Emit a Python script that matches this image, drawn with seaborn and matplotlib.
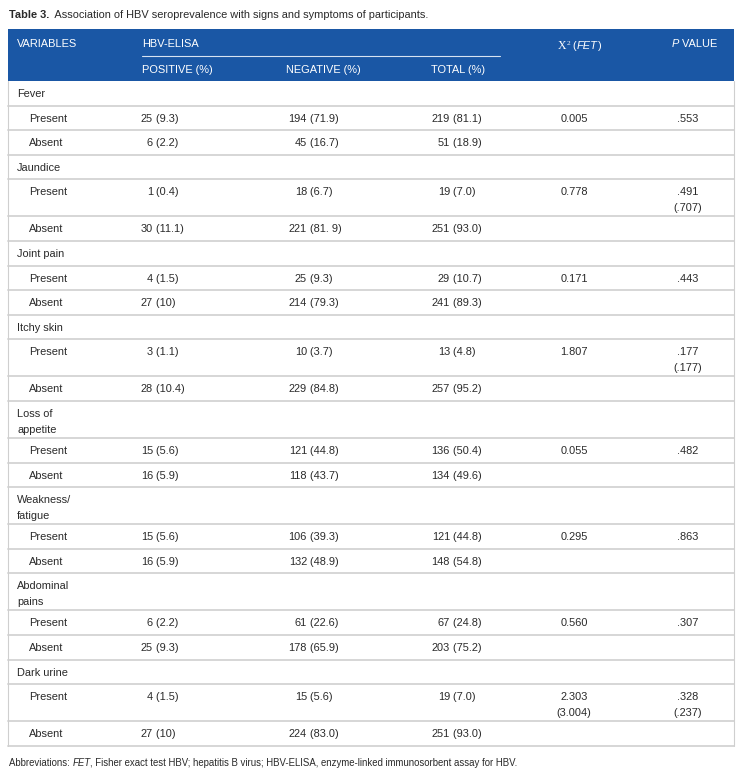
import matplotlib
matplotlib.use('Agg')
import matplotlib.pyplot as plt
import seaborn as sns

# table content
symptoms = ['Fever', 'Jaundice', 'Joint pain', 'Itchy skin', 'Loss of\nappetite',
            'Weakness/\nfatigue', 'Abdominal\npains', 'Dark urine']
levels = ['Present', 'Absent']

positive = [['25 (9.3)', '6 (2.2)'], ['1 (0.4)', '30 (11.1)'], ['4 (1.5)', '27 (10)'],
            ['3 (1.1)', '28 (10.4)'], ['15 (5.6)', '16 (5.9)'], ['15 (5.6)', '16 (5.9)'],
            ['6 (2.2)', '25 (9.3)'], ['4 (1.5)', '27 (10)']]
negative = [['194 (71.9)', '45 (16.7)'], ['18 (6.7)', '221 (81. 9)'], ['25 (9.3)', '214 (79.3)'],
            ['10 (3.7)', '229 (84.8)'], ['121 (44.8)', '118 (43.7)'], ['106 (39.3)', '132 (48.9)'],
            ['61 (22.6)', '178 (65.9)'], ['15 (5.6)', '224 (83.0)']]
total = [['219 (81.1)', '51 (18.9)'], ['19 (7.0)', '251 (93.0)'], ['29 (10.7)', '241 (89.3)'],
         ['13 (4.8)', '257 (95.2)'], ['136 (50.4)', '134 (49.6)'], ['121 (44.8)', '148 (54.8)'],
         ['67 (24.8)', '203 (75.2)'], ['19 (7.0)', '251 (93.0)']]
chi_square = ['0.005', '0.778', '0.171', '1.807', '0.055', '0.295', '0.560', '2.303\n(3.004)']
p_values = ['.553', '.491\n(.707)', '.443', '.177\n(.177)', '.482', '.863', '.307', '.328\n(.237)']

title_bold = 'Table 3.'
title_rest = 'Association of HBV seroprevalence with signs and symptoms of participants.'

sns.set_theme(style='white')
plt.rcParams['font.family'] = ['Liberation Sans', 'DejaVu Sans']

BLUE = '#1a57a5'
GRID = '#d6d6d6'
INK = '#2a2a2a'
FS = 7.9
W, H = 742, 775

fig = plt.figure(figsize=(W / 100, H / 100), dpi=100)
ax = fig.add_axes([0, 0, 1, 1])
ax.set_xlim(0, W)
ax.set_ylim(H, 0)
ax.axis('off')
fig.canvas.draw()
renderer = fig.canvas.get_renderer()


def segments(x, y, parts, size=FS, color=INK):
    # draw a run of text pieces with different styles one after another
    for txt, kw in parts:
        kw = dict(kw)
        dy = kw.pop('dy', 0)
        opts = dict(fontsize=size, color=color, va='baseline', ha='left')
        opts.update(kw)
        t = ax.text(x, y + dy, txt, **opts)
        x += t.get_window_extent(renderer).width


def cell(xr, y, s):
    # number right aligned at xr, bracket part follows
    num, rest = s.split(' ', 1)
    ax.text(xr, y, num, fontsize=FS, color=INK, ha='right', va='baseline')
    ax.text(xr, y, ' ' + rest, fontsize=FS, color=INK, ha='left', va='baseline')


# title
segments(9, 18, [(title_bold, {'fontweight': 'bold'}), ('  ' + title_rest, {})], size=7.9)

# header
left, right = 8, 734
ax.add_patch(plt.Rectangle((left, 29), right - left, 52, color=BLUE, lw=0))
hkw = dict(fontsize=FS, color='white', va='baseline')
ax.text(17, 47, 'VARIABLES', **hkw)
ax.text(142, 47, 'HBV-ELISA', **hkw)
ax.plot([142, 500], [56, 56], color='#d7e3f2', lw=0.8)
ax.text(142, 73, 'POSITIVE (%)', **hkw)
ax.text(286, 73, 'NEGATIVE (%)', **hkw)
ax.text(431, 73, 'TOTAL (%)', **hkw)
segments(558, 49, [('X', {'family': 'Liberation Serif', 'fontsize': 8.5}),
                   ('2', {'family': 'Liberation Serif', 'fontsize': 5.4, 'dy': -4}),
                   (' (', {}), ('FET', {'style': 'italic'}), (')', {})], color='white')
segments(672, 47, [('P', {'style': 'italic'}), (' VALUE', {})], color='white')

# body rows
SINGLE, DOUBLE, LEAD = 24.6, 37.0, 15.5
y = 81
col_right = [153, 307, 450]
for i, name in enumerate(symptoms):
    h = DOUBLE if '\n' in name else SINGLE
    for j, line in enumerate(name.split('\n')):
        ax.text(17, y + 16 + j * LEAD, line, fontsize=FS, color=INK, va='baseline')
    y += h
    ax.plot([left, right], [y, y], color=GRID, lw=1.4)
    for k, lev in enumerate(levels):
        extra = k == 0 and ('\n' in chi_square[i] or '\n' in p_values[i])
        h = DOUBLE if extra else SINGLE
        base = y + 16
        ax.text(29, base, lev, fontsize=FS, color=INK, va='baseline')
        for xr, col in zip(col_right, [positive, negative, total]):
            cell(xr, base, col[i][k])
        if k == 0:
            for xc, val in [(574, chi_square[i]), (688, p_values[i])]:
                for j, line in enumerate(val.split('\n')):
                    ax.text(xc, base + j * LEAD, line, fontsize=FS, color=INK,
                            ha='center', va='baseline')
        y += h
        ax.plot([left, right], [y, y], color=GRID, lw=1.4)

# outer border
ax.plot([left, left], [81, y], color='#cfcfcf', lw=0.8)
ax.plot([right, right], [81, y], color='#cfcfcf', lw=0.8)

segments(9, 766, [('Abbreviations: ', {}), ('FET', {'style': 'italic'}),
                  (', Fisher exact test HBV; hepatitis B virus; HBV-ELISA, enzyme-linked '
                   'immunosorbent assay for HBV.', {})], size=6.9)

fig.savefig('out.png', dpi=100)
